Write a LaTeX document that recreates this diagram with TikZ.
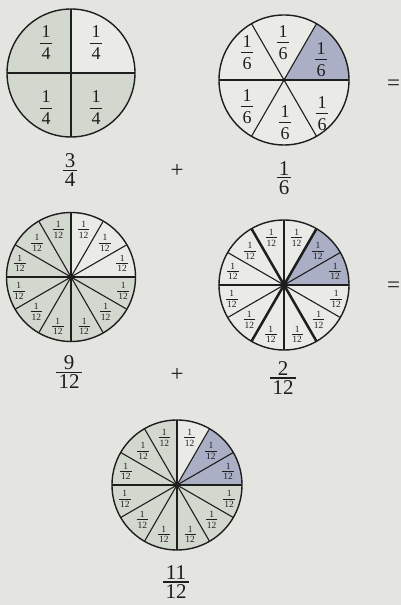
\documentclass[tikz,border=0pt]{standalone}
\usepackage{fontspec}
\setmainfont{Liberation Serif}
\usetikzlibrary{calc}
\definecolor{bg}{HTML}{E4E4E1}
\definecolor{grn}{HTML}{D2D8CE}
\definecolor{blu}{HTML}{AAAFC6}
\definecolor{wht}{HTML}{EAEAE7}
\definecolor{ink}{HTML}{1E1E1E}
% stacked fraction: #1 = gap around the bar, #2 numerator, #3 denominator
\newcommand{\fr}[3][0.25em]{\vbox{\offinterlineskip\halign{\hfil\kern0.1em##\kern0.1em\hfil\cr
  #2\cr\noalign{\kern#1\hrule height 0.05em\kern#1}#3\cr}}}
\tikzset{
  rim/.style={draw=ink, line width=1.4pt},
  spoke/.style={draw=ink, line width=1.1pt},
  heavyspoke/.style={draw=ink, line width=2.5pt, line cap=round},
  hub/.style={fill=ink},
  fracA/.style={font=\fontsize{18}{20}\selectfont, text=ink, inner sep=0pt},
  fracB/.style={font=\fontsize{21}{24}\selectfont, text=ink, inner sep=0pt},
  fracC/.style={font=\fontsize{9.5}{11}\selectfont, text=ink, inner sep=0pt},
  opsign/.style={font=\fontsize{23}{25}\selectfont, text=ink, inner sep=0pt},
}
\newcommand{\qa}{\fr[0.26em]{1}{4}}
\newcommand{\sa}{\fr[0.26em]{1}{6}}
\newcommand{\ta}{\fr[0.2em]{1}{12}}
\begin{document}
\begin{tikzpicture}[x=1pt,y=1pt]
\fill[bg] (0,0) rectangle (401,605);
\useasboundingbox (0,0) rectangle (401,605);

% ---------- circle 1 : quarters ----------
\coordinate (c1) at (71,532);
\fill[wht] (c1) -- ++(0:64) arc[start angle=0,end angle=90,radius=64] -- cycle;
\fill[grn] (c1) -- ++(90:64) arc[start angle=90,end angle=360,radius=64] -- cycle;
\foreach \a in {0,90,180,270} \draw[spoke] (c1) -- ++(\a:64);
\draw[rim] (c1) circle[radius=64];
\node[fracA] (q1) at ([shift={(-25,30)}]c1) {\qa};
\node[fracA] (q2) at ([shift={(25,30)}]c1) {\qa};
\node[fracA] (q3) at ([shift={(-25,-35)}]c1) {\qa};
\node[fracA] (q4) at ([shift={(25,-35)}]c1) {\qa};
\node[fracB] (t1) at (70,435) {\fr[0.1em]{3}{4}};
\node[opsign] (plus1) at (177,434) {+};

% ---------- circle 2 : sixths ----------
\coordinate (c2) at (284,525);
\fill[wht] (c2) circle[radius=65];
\fill[blu] (c2) -- ++(0:65) arc[start angle=0,end angle=60,radius=65] -- cycle;
\foreach \a in {0,60,...,300} \draw[spoke] (c2) -- ++(\a:65);
\draw[rim] (c2) circle[radius=65];
\fill[hub] (c2) circle[radius=1.8];
\node[fracA] (s1) at ([shift={(-1,37)}]c2) {\sa};
\node[fracA] (s2) at ([shift={(-37,27)}]c2) {\sa};
\node[fracA] (s3) at ([shift={(37,20)}]c2) {\sa};
\node[fracA] (s4) at ([shift={(-37,-27)}]c2) {\sa};
\node[fracA] (s5) at ([shift={(1,-43)}]c2) {\sa};
\node[fracA] (s6) at ([shift={(38,-34)}]c2) {\sa};
\node[fracB] (t2) at (284,427) {\fr[0.1em]{1}{6}};
\node[opsign] (eq1) at (393.5,520) {=};

% ---------- circle 3 : 9/12 ----------
\coordinate (c3) at (71,328);
\fill[wht] (c3) -- ++(0:64.5) arc[start angle=0,end angle=90,radius=64.5] -- cycle;
\fill[grn] (c3) -- ++(90:64.5) arc[start angle=90,end angle=360,radius=64.5] -- cycle;
\foreach \a in {30,60,120,150,210,240,300,330} \draw[spoke] (c3) -- ++(\a:64.5);
\foreach \a in {0,90,180,270} \draw[heavyspoke] (c3) -- ++(\a:64);
\draw[rim] (c3) circle[radius=64.5];
\fill[hub] (c3) circle[radius=3];
\foreach \a/\rr [count=\i] in {15/53,45/48,75/49,105/49,135/48,165/53,195/54,225/49,255/51,285/51,315/49,345/54}
  \node[fracC] (a\i) at ([shift={(\a:\rr)}]c3) {\ta};
\node[fracB] (t3) at (69,233) {\fr[0.1em]{9}{12}};
\node[opsign] (plus2) at (177,230) {+};

% ---------- circle 4 : 2/12 ----------
\coordinate (c4) at (284,320);
\fill[wht] (c4) circle[radius=65];
\fill[blu] (c4) -- ++(0:65) arc[start angle=0,end angle=60,radius=65] -- cycle;
\foreach \a in {30,90,150,210,270,330} \draw[spoke] (c4) -- ++(\a:65);
\foreach \a in {0,60,...,300} \draw[heavyspoke] (c4) -- ++(\a:64.5);
\draw[rim] (c4) circle[radius=65];
\fill[hub] (c4) circle[radius=3];
\foreach \a/\rr [count=\i] in {15/53,45/48,75/49,105/49,135/48,165/53,195/54,225/49,255/51,285/51,315/49,345/54}
  \node[fracC] (b\i) at ([shift={(\a:\rr)}]c4) {\ta};
\node[fracB] (t4) at (283,227) {\fr[0.1em]{2}{12}};
\node[opsign] (eq2) at (393.5,318) {=};

% ---------- circle 5 : 11/12 ----------
\coordinate (c5) at (177,120);
\fill[grn] (c5) circle[radius=65];
\fill[blu] (c5) -- ++(0:65) arc[start angle=0,end angle=60,radius=65] -- cycle;
\fill[wht] (c5) -- ++(60:65) arc[start angle=60,end angle=90,radius=65] -- cycle;
\foreach \a in {0,30,...,330} \draw[spoke] (c5) -- ++(\a:65);
\draw[rim] (c5) circle[radius=65];
\fill[hub] (c5) circle[radius=3];
\foreach \a/\rr [count=\i] in {15/53,45/48,75/49,105/49,135/48,165/53,195/54,225/49,255/51,285/51,315/49,345/54}
  \node[fracC] (d\i) at ([shift={(\a:\rr)}]c5) {\ta};
\node[fracB] (t5) at (176,23) {\fr[0.1em]{11}{12}};
\end{tikzpicture}
\end{document}
